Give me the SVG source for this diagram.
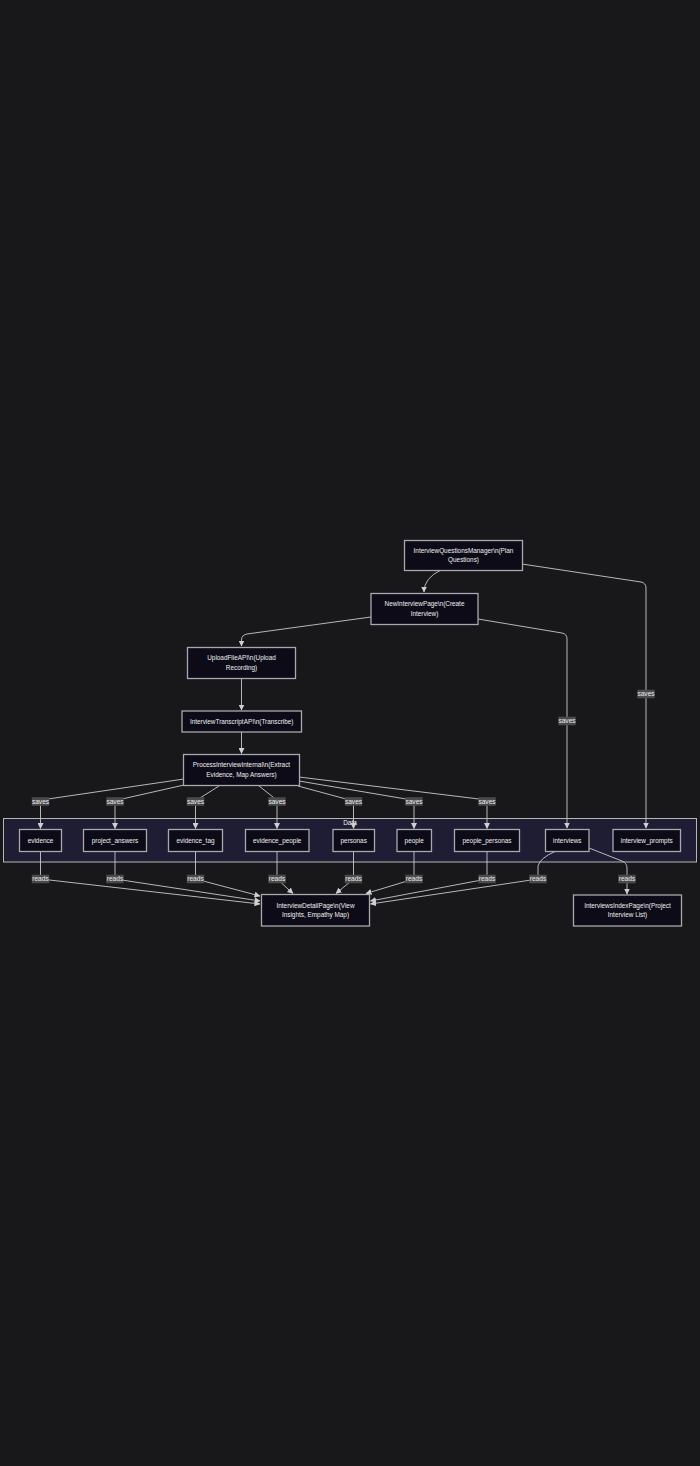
<svg xmlns="http://www.w3.org/2000/svg" width="700" height="1466" viewBox="0 0 700 1466">
  <style>
    .bg { fill: #18181b; }
    .node rect { fill: #0c0b17; stroke: #a9a9ad; stroke-width: 1.3; }
    .node text, .cluster text { fill: #f0f0f0; font-family: "Liberation Sans", Arial, sans-serif; font-size: 6.4px; text-anchor: middle; }
    .cluster rect { fill: #1f1d33; stroke: #b5b5b8; stroke-width: 1; }
    .edge { fill: none; stroke: #c8c8cc; stroke-width: 0.9; marker-end: url(#arrow); }
    .lbl rect { fill: #4a4a4c; }
    .lbl text { fill: #ececec; font-family: "Liberation Sans", Arial, sans-serif; font-size: 6.6px; text-anchor: middle; }
  </style>
  <defs>
    <marker id="arrow" markerUnits="userSpaceOnUse" markerWidth="6" markerHeight="6" refX="5.5" refY="3" orient="auto">
      <path d="M0,0 L6,3 L0,6 z" fill="#d0d0d4"/>
    </marker>
  </defs>

  <rect class="bg" x="0" y="0" width="700" height="1466"/>

  <!-- Data subgraph -->
  <g id="cluster-data" class="cluster">
    <rect x="3.5" y="818.5" width="693" height="43.5"/>
    <text x="350" y="825">Data</text>
  </g>

  <!-- connectors -->
  <g id="edges">
    <path class="edge" d="M441,570 Q424,578 424,592"/>
    <path class="edge" d="M522,564 L641,582 Q646,583 646,588 L646,828"/>
    <path class="edge" d="M371,617 L247,634 Q241.5,635 241.5,640 L241.5,646"/>
    <path class="edge" d="M478,619 L562,633 Q567,634 567,639 L567,828"/>
    <path class="edge" d="M241.5,678.5 L241.5,710"/>
    <path class="edge" d="M241.5,732 L241.5,753.5"/>

    <path class="edge" d="M184,779 L48,799 Q40.5,800.5 40.5,806 L40.5,828.5"/>
    <path class="edge" d="M184,785 L122,799 Q115,801 115,806 L115,828.5"/>
    <path class="edge" d="M219,786 L200,798 Q195.5,801 195.5,806 L195.5,828.5"/>
    <path class="edge" d="M259,786 L273,797 Q277,800 277,805 L277,828.5"/>
    <path class="edge" d="M298,786 L346,799 Q353.5,801 353.5,806 L353.5,828.5"/>
    <path class="edge" d="M299,781 L406,799 Q414,801 414,806 L414,828.5"/>
    <path class="edge" d="M299,777 L479,799 Q487,800 487,805 L487,828.5"/>

    <path class="edge" d="M40.5,851.5 L40.5,879 L260,904"/>
    <path class="edge" d="M115,851.5 L115,879 L260,901"/>
    <path class="edge" d="M195.5,851.5 L195.5,879 L260,896"/>
    <path class="edge" d="M277,851.5 L277,879 L293,893.5"/>
    <path class="edge" d="M353.5,851.5 L353.5,879 L336,893.5"/>
    <path class="edge" d="M414,851.5 L414,879 L366,893.5"/>
    <path class="edge" d="M487,851.5 L487,879 L370.5,901"/>
    <path class="edge" d="M555,851.5 Q540,858 538,866 L538,879 L370.5,904"/>
    <path class="edge" d="M589,848 L622,861 Q627,863 627,868 L627,894"/>
  </g>

  <!-- connector labels -->
  <g id="edge-labels">
    <g class="lbl"><rect x="637.3" y="689.7" width="17.4" height="8.6"/><text x="646" y="696.3">saves</text></g>
    <g class="lbl"><rect x="558.3" y="716.7" width="17.4" height="8.6"/><text x="567" y="723.3">saves</text></g>
    <g class="lbl"><rect x="31.8" y="797.2" width="17.4" height="8.6"/><text x="40.5" y="803.8">saves</text></g>
    <g class="lbl"><rect x="106.3" y="797.2" width="17.4" height="8.6"/><text x="115" y="803.8">saves</text></g>
    <g class="lbl"><rect x="186.8" y="797.2" width="17.4" height="8.6"/><text x="195.5" y="803.8">saves</text></g>
    <g class="lbl"><rect x="268.3" y="797.2" width="17.4" height="8.6"/><text x="277" y="803.8">saves</text></g>
    <g class="lbl"><rect x="344.8" y="797.2" width="17.4" height="8.6"/><text x="353.5" y="803.8">saves</text></g>
    <g class="lbl"><rect x="405.3" y="797.2" width="17.4" height="8.6"/><text x="414" y="803.8">saves</text></g>
    <g class="lbl"><rect x="478.3" y="797.2" width="17.4" height="8.6"/><text x="487" y="803.8">saves</text></g>

    <g class="lbl"><rect x="31.8" y="874.7" width="17.4" height="8.6"/><text x="40.5" y="881.3">reads</text></g>
    <g class="lbl"><rect x="106.3" y="874.7" width="17.4" height="8.6"/><text x="115" y="881.3">reads</text></g>
    <g class="lbl"><rect x="186.8" y="874.7" width="17.4" height="8.6"/><text x="195.5" y="881.3">reads</text></g>
    <g class="lbl"><rect x="268.3" y="874.7" width="17.4" height="8.6"/><text x="277" y="881.3">reads</text></g>
    <g class="lbl"><rect x="344.8" y="874.7" width="17.4" height="8.6"/><text x="353.5" y="881.3">reads</text></g>
    <g class="lbl"><rect x="405.3" y="874.7" width="17.4" height="8.6"/><text x="414" y="881.3">reads</text></g>
    <g class="lbl"><rect x="478.3" y="874.7" width="17.4" height="8.6"/><text x="487" y="881.3">reads</text></g>
    <g class="lbl"><rect x="529.3" y="874.7" width="17.4" height="8.6"/><text x="538" y="881.3">reads</text></g>
    <g class="lbl"><rect x="618.3" y="874.7" width="17.4" height="8.6"/><text x="627" y="881.3">reads</text></g>
  </g>

  <!-- flow nodes -->
  <g id="InterviewQuestionsManager" class="node">
    <rect x="404.5" y="540.5" width="118" height="30"/>
    <text x="463.5" y="553">InterviewQuestionsManager\n(Plan</text>
    <text x="463.5" y="562.3">Questions)</text>
  </g>
  <g id="NewInterviewPage" class="node">
    <rect x="371" y="593.5" width="107" height="31"/>
    <text x="424.5" y="605.5">NewInterviewPage\n(Create</text>
    <text x="424.5" y="615.5">Interview)</text>
  </g>
  <g id="UploadFileAPI" class="node">
    <rect x="187.5" y="647.5" width="108" height="31"/>
    <text x="241.5" y="659.5">UploadFileAPI\n(Upload</text>
    <text x="241.5" y="669.8">Recording)</text>
  </g>
  <g id="InterviewTranscriptAPI" class="node">
    <rect x="182" y="711" width="119.5" height="21"/>
    <text x="241.7" y="724">InterviewTranscriptAPI\n(Transcribe)</text>
  </g>
  <g id="ProcessInterviewInternal" class="node">
    <rect x="183.5" y="754.5" width="116" height="31"/>
    <text x="241.5" y="767">ProcessInterviewInternal\n(Extract</text>
    <text x="241.5" y="777.2">Evidence, Map Answers)</text>
  </g>

  <!-- data tables -->
  <g id="evidence" class="node">
    <rect x="19.5" y="829.5" width="42" height="22"/>
    <text x="40.5" y="842.5">evidence</text>
  </g>
  <g id="project_answers" class="node">
    <rect x="83.5" y="829.5" width="63" height="22"/>
    <text x="115" y="842.5">project_answers</text>
  </g>
  <g id="evidence_tag" class="node">
    <rect x="168.5" y="829.5" width="54" height="22"/>
    <text x="195.5" y="842.5">evidence_tag</text>
  </g>
  <g id="evidence_people" class="node">
    <rect x="245.5" y="829.5" width="63.5" height="22"/>
    <text x="277.2" y="842.5">evidence_people</text>
  </g>
  <g id="personas" class="node">
    <rect x="333" y="829.5" width="41.5" height="22"/>
    <text x="353.7" y="842.5">personas</text>
  </g>
  <g id="people" class="node">
    <rect x="397" y="829.5" width="34.5" height="22"/>
    <text x="414.2" y="842.5">people</text>
  </g>
  <g id="people_personas" class="node">
    <rect x="454.5" y="829.5" width="65" height="22"/>
    <text x="487" y="842.5">people_personas</text>
  </g>
  <g id="interviews" class="node">
    <rect x="545.5" y="829.5" width="43.5" height="22"/>
    <text x="567.3" y="842.5">interviews</text>
  </g>
  <g id="interview_prompts" class="node">
    <rect x="613" y="829.5" width="67.5" height="22"/>
    <text x="646.7" y="842.5">interview_prompts</text>
  </g>

  <!-- pages reading the data -->
  <g id="InterviewDetailPage" class="node">
    <rect x="261.5" y="894.5" width="108" height="31.5"/>
    <text x="315.5" y="908">InterviewDetailPage\n(View</text>
    <text x="315.5" y="917.3">Insights, Empathy Map)</text>
  </g>
  <g id="InterviewsIndexPage" class="node">
    <rect x="573.5" y="895" width="108" height="31"/>
    <text x="627.5" y="908">InterviewsIndexPage\n(Project</text>
    <text x="627.5" y="917.3">Interview List)</text>
  </g>
</svg>
